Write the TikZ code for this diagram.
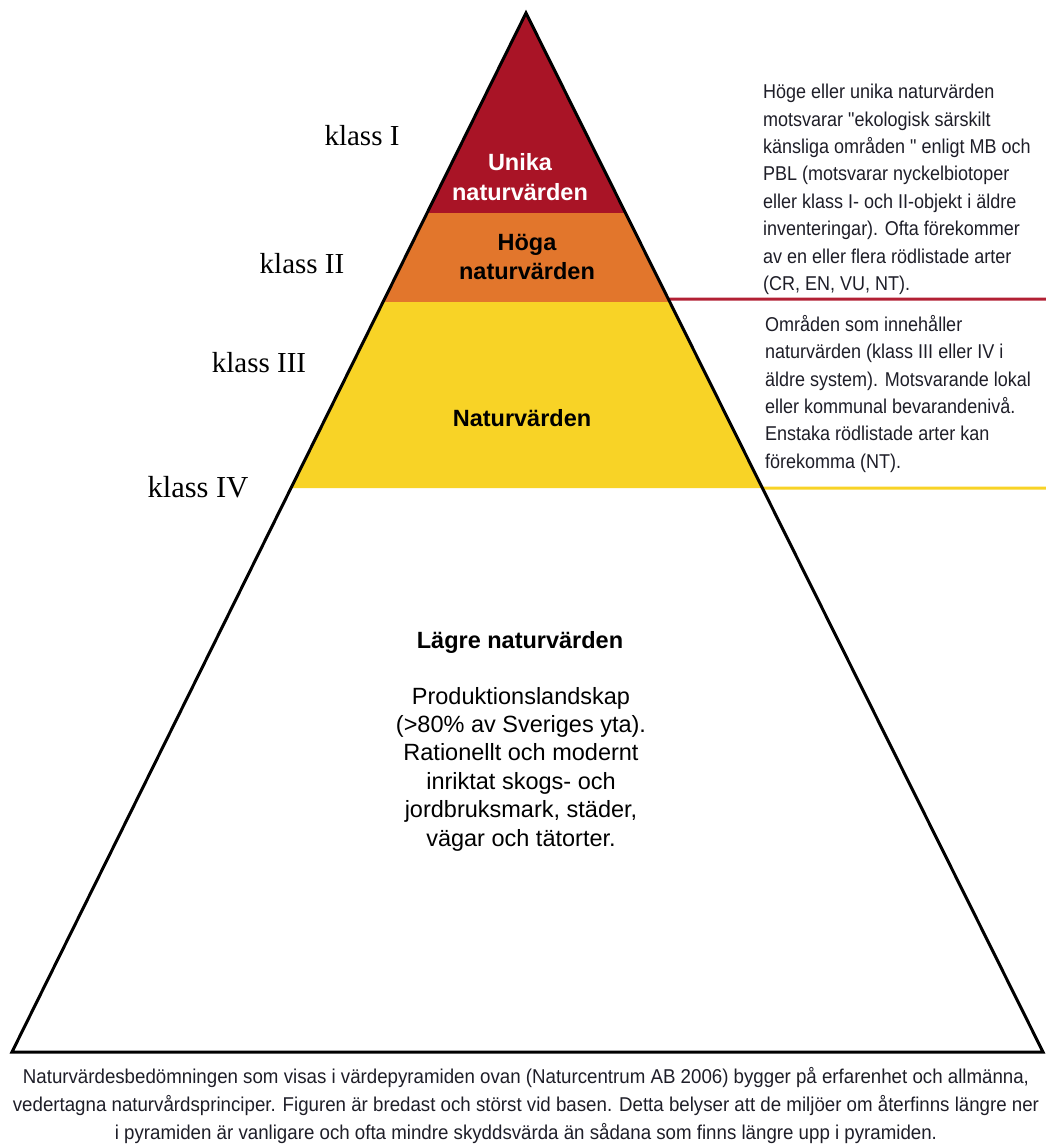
\documentclass[tikz,border=0pt]{standalone}
\usepackage{fontspec}
\usetikzlibrary{calc}
\setmainfont{Liberation Serif}
\newfontfamily\arialfont{Liberation Sans}
\newfontfamily\narrowfont[FakeStretch=0.9]{Liberation Sans}
\newfontfamily\captionfont[FakeStretch=0.935]{Liberation Sans}
\definecolor{unikared}{RGB}{169,20,38}
\definecolor{hogaorange}{RGB}{226,118,44}
\definecolor{natyellow}{RGB}{248,211,38}
\definecolor{linered}{RGB}{178,32,52}
\definecolor{textgray}{RGB}{30,30,40}
\tikzset{
  klass/.style = {anchor = base, inner sep = 0pt, font = \fontsize{29}{31}\selectfont},
  bandlabel/.style = {align = center, inner sep = 0pt, font = \arialfont\bfseries\fontsize{23.5}{29.5}\selectfont},
  sidetext/.style = {anchor = north west, align = left, inner sep = 0pt, text = textgray, font = \narrowfont\fontsize{20}{27.4}\selectfont},
}

\begin{document}
\begin{tikzpicture}[x=1pt,y=-1pt]
\useasboundingbox (0,0) rectangle (1046,1144);
    \coordinate (top) at (526,13);
    \coordinate (bl) at (12,1052);
    \coordinate (br) at (1043,1052);
    % band limits on both sides
    \coordinate (l1) at ($(top)!0.1925!(bl)$);
    \coordinate (r1) at ($(top)!0.1925!(br)$);
    \coordinate (l2) at ($(top)!0.2782!(bl)$);
    \coordinate (r2) at ($(top)!0.2782!(br)$);
    \coordinate (l3) at ($(top)!0.4572!(bl)$);
    \coordinate (r3) at ($(top)!0.4572!(br)$);
    \coordinate (rred) at ($(top)!0.2753!(br)$);
    \coordinate (redend) at (1046,299);
    \coordinate (yellowend) at (1046,488);
    \fill [unikared] (top) -- (r1) -- (l1) -- cycle;
    \fill [hogaorange] (l1) -- (r1) -- (r2) -- (l2) -- cycle;
    \fill [natyellow] (l2) -- (r2) -- (r3) -- (l3) -- cycle;
    \draw [linered, line width = 3pt] (rred) -- (redend);
    \draw [natyellow, line width = 3pt] (r3) -- (yellowend);
    \draw [line width = 3pt, line join = miter] (top) -- (br) -- (bl) -- cycle;

    \node [bandlabel, text = white] (unika) at (520,177) {Unika\\naturvärden};
    \node [bandlabel] (hoga) at (527,257) {Höga\\naturvärden};
    \node [bandlabel] (natur) at (522,418) {Naturvärden};
    \node [bandlabel] (lagre) at (520,642) {Lägre naturvärden};
    \node [align = center, inner sep = 0pt, font = \arialfont\fontsize{23.5}{28.4}\selectfont] (prod) at (521,769)
        {Produktionslandskap\\(>80\% av Sveriges yta).\\Rationellt och modernt\\inriktat skogs- och\\jordbruksmark, städer,\\vägar och tätorter.};

    \node [klass] (k1) at (362,145) {klass I};
    \node [klass] (k2) at (302,273) {klass II};
    \node [klass] (k3) at (259,372) {klass III};
    \node [klass, font = \fontsize{30.5}{32}\selectfont] (k4) at (198,497) {klass IV};

    \node [sidetext] (hogtext) at (763,84) {Höge eller unika naturvärden\\motsvarar "ekologisk särskilt\\känsliga områden " enligt MB och\\PBL (motsvarar nyckelbiotoper\\eller klass I- och II-objekt i äldre\\inventeringar). Ofta förekommer\\av en eller flera rödlistade arter\\(CR, EN, VU, NT).};
    \node [sidetext] (nattext) at (765,315) {Områden som innehåller\\naturvärden (klass III eller IV i\\äldre system). Motsvarande lokal\\eller kommunal bevarandenivå.\\Enstaka rödlistade arter kan\\förekomma (NT).};

    \node [align = center, inner sep = 0pt, text = textgray, font = \captionfont\fontsize{20}{28}\selectfont] (caption) at (526,1105)
        {Naturvärdesbedömningen som visas i värdepyramiden ovan (Naturcentrum AB 2006) bygger på erfarenhet och allmänna,\\vedertagna naturvårdsprinciper. Figuren är bredast och störst vid basen. Detta belyser att de miljöer om återfinns längre ner\\i pyramiden är vanligare och ofta mindre skyddsvärda än sådana som finns längre upp i pyramiden.};
\end{tikzpicture}
\end{document}
